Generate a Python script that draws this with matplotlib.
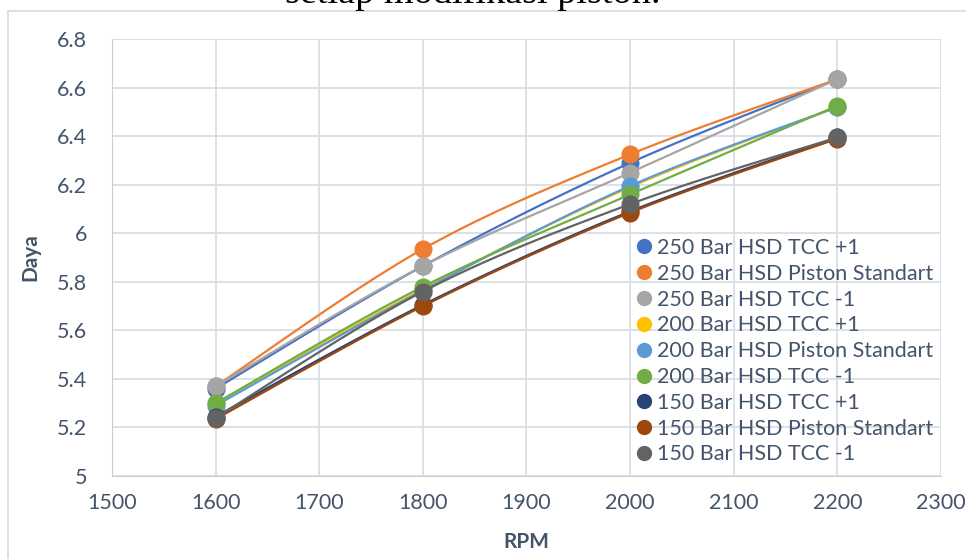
import numpy as np
import matplotlib
matplotlib.use('Agg')
from matplotlib import pyplot as plt
from matplotlib.lines import Line2D
from matplotlib.patches import Rectangle

rpm = [1600, 1800, 2000, 2200]

labels = ['250 Bar HSD TCC +1', '250 Bar HSD Piston Standart', '250 Bar HSD TCC -1',
          '200 Bar HSD TCC +1', '200 Bar HSD Piston Standart', '200 Bar HSD TCC -1',
          '150 Bar HSD TCC +1', '150 Bar HSD Piston Standart', '150 Bar HSD TCC -1']

d250_tcc_p1 = [5.36, 5.865, 6.29, 6.635]
d250_std = [5.37, 5.935, 6.325, 6.635]
d250_tcc_m1 = [5.37, 5.865, 6.25, 6.635]
d200_tcc_p1 = [5.30, 5.77, 6.19, 6.52]
d200_std = [5.29, 5.765, 6.195, 6.52]
d200_tcc_m1 = [5.30, 5.78, 6.16, 6.525]
d150_tcc_p1 = [5.245, 5.705, 6.09, 6.395]
d150_std = [5.235, 5.70, 6.085, 6.39]
d150_tcc_m1 = [5.24, 5.76, 6.12, 6.395]

series = [d250_tcc_p1, d250_std, d250_tcc_m1, d200_tcc_p1, d200_std,
          d200_tcc_m1, d150_tcc_p1, d150_std, d150_tcc_m1]
colors = ['#4472C4', '#ED7D31', '#A5A5A5', '#FFC000', '#5B9BD5',
          '#70AD47', '#264478', '#9E480E', '#636363']

txt = '#44546A'
grid = '#D9DDE5'
plt.rcParams['font.family'] = ['Lato', 'DejaVu Sans']


def smooth(x, y, n=40):
    # excel-like smoothed line (catmull-rom bezier)
    p = np.column_stack([x, y]).astype(float)
    p = np.vstack([p[0], p, p[-1]])
    t = np.linspace(0, 1, n)[:, None]
    out = []
    for i in range(1, len(p) - 2):
        p0, p1, p2, p3 = p[i - 1], p[i], p[i + 1], p[i + 2]
        c1 = p1 + (p2 - p0) / 6
        c2 = p2 - (p3 - p1) / 6
        b = ((1 - t) ** 3) * p1 + 3 * ((1 - t) ** 2) * t * c1 + 3 * (1 - t) * t ** 2 * c2 + t ** 3 * p2
        out.append(b)
    out = np.vstack(out)
    return out[:, 0], out[:, 1]


fig = plt.figure(figsize=(9.66, 5.59), dpi=100)
ax = fig.add_axes([0.116, 0.1485, 0.858, 0.7815])

for vals, c in zip(series, colors):
    sx, sy = smooth(rpm, vals)
    ax.plot(sx, sy, color=c, lw=1.6, zorder=3)
    ax.plot(rpm, vals, 'o', color=c, ms=12, zorder=3)

ax.set_xlim(1500, 2300)
ax.set_ylim(5, 6.8)
ax.set_xticks(np.arange(1500, 2301, 100))
ax.set_yticks(np.arange(5, 6.81, 0.2))
ax.set_yticklabels(['5', '5.2', '5.4', '5.6', '5.8', '6', '6.2', '6.4', '6.6', '6.8'])
ax.grid(True, color=grid, lw=1.3)
ax.set_axisbelow(True)
for s in ['top', 'right']:
    ax.spines[s].set_visible(False)
for s in ['left', 'bottom']:
    ax.spines[s].set_color('#C8CDD6')
ax.tick_params(axis='y', length=0, labelsize=15.5, colors=txt, pad=18)
ax.tick_params(axis='x', length=0, labelsize=15.5, colors=txt, pad=12)
ax.set_xlabel('RPM', fontsize=15, fontweight='bold', color=txt, labelpad=14)
ax.set_ylabel('Daya', fontsize=15, fontweight='bold', color=txt, labelpad=12)

handles = [Line2D([], [], ls='none', marker='o', color=c, ms=10) for c in colors]
leg = ax.legend(handles, labels, loc='upper left', bbox_to_anchor=(632 / 966, 1 - 238 / 559),
                bbox_transform=fig.transFigure, frameon=False, fontsize=15.5,
                labelspacing=0.27, handletextpad=0.05, handlelength=1.1, borderaxespad=0,
                borderpad=0)
for t in leg.get_texts():
    t.set_color(txt)

# chart border
fig.patches.append(Rectangle((8 / 966, -0.05), 1.2, 1 - 11 / 559 + 0.05, transform=fig.transFigure,
                             fill=False, edgecolor='#D9D9D9', lw=1.2))
fig.text(285 / 966, 1 - 3 / 559, 'setiap modifikasi piston.', family='Liberation Serif',
         fontsize=27.5, color='black', va='baseline', ha='left')

fig.savefig('out.png', dpi=100)
